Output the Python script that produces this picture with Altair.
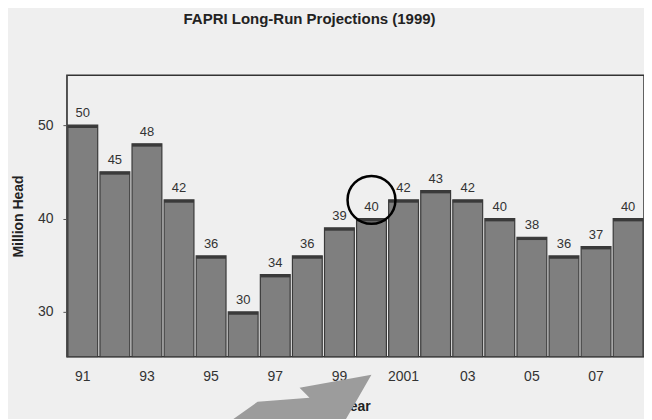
import altair as alt
import pandas as pd

years = ["91", "92", "93", "94", "95", "96", "97", "98", "99", "2000",
         "2001", "02", "03", "04", "05", "06", "07", "08"]
values = [50, 45, 48, 42, 36, 30, 34, 36, 39, 40, 42, 43, 42, 40, 38, 36, 37, 40]
tick_years = ["91", "93", "95", "97", "99", "2001", "03", "05", "07"]
y_ticks = [30, 40, 50]
circle_year = ["2000"]
circle_value = [42]

df = pd.DataFrame({"year": years, "value": values})
circ = pd.DataFrame({"year": circle_year, "value": circle_value})

FONT = "Liberation Sans"
BASE = 25.2

x = alt.X("year:N", sort=years,
          scale=alt.Scale(paddingInner=0.07, paddingOuter=0.03),
          axis=alt.Axis(values=tick_years, title="Year", labelAngle=0,
                        domain=False, ticks=False, labelPadding=13,
                        labelFontSize=14, labelColor="#333", labelFont=FONT,
                        titleFont=FONT, titleFontSize=14, titleFontWeight="bold",
                        titleColor="#222", titlePadding=16))
y = alt.Y("value:Q",
          scale=alt.Scale(domain=[BASE, 55.35], zero=False, nice=False),
          axis=alt.Axis(values=y_ticks, title="Million Head", grid=False,
                        domainColor="#555", tickColor="#555", tickSize=4,
                        labelPadding=10, labelFontSize=14, labelColor="#333",
                        labelFont=FONT, titleFont=FONT, titleFontSize=14,
                        titleFontWeight="bold", titleColor="#222",
                        titlePadding=12))

base = alt.Chart(df)

bars = base.mark_bar(color="#7f7f7f", stroke="#3a3a3a", strokeWidth=1.2).encode(
    x=x, y=y, y2=alt.datum(BASE))

tops = base.transform_calculate(top2="datum.value - 0.3").mark_bar(
    color="#3a3a3a").encode(x=x, y="value:Q", y2="top2:Q")

labels = base.mark_text(baseline="bottom", dy=-5, fontSize=13, color="#333",
                        font=FONT).encode(x=x, y="value:Q", text="value:Q")

circle = alt.Chart(circ).mark_point(shape="circle", size=2300, filled=False,
                                    stroke="black", strokeWidth=2.5,
                                    opacity=1).encode(x=x, y="value:Q")

arrow_path = ("M -0.933 0.293 L -0.56 0.027 L 0.133 -0.027 L 0 -0.16 "
              "L 0.96 -0.333 L 0.6 0.293 Z")
arrow = alt.Chart(circ).mark_point(shape=arrow_path, filled=True, size=22500,
                                   color="#9c9c9c", opacity=1,
                                   strokeWidth=0).encode(
    x=alt.value(233), y=alt.value(325))

chart = alt.layer(bars, tops, labels, circle, arrow).properties(
    width=578, height=282,
    padding={"left": 59, "top": 67, "right": 0, "bottom": 62},
    autosize="none",
    background="#efefef",
    title=alt.TitleParams("FAPRI Long-Run Projections (1999)", fontSize=15,
                          fontWeight="bold", font=FONT, anchor="middle",
                          dx=-46, offset=48, color="#222"),
).configure_view(stroke="#333", strokeWidth=1.5)

chart.save("out.html", embed_options={"renderer": "svg", "actions": False})
